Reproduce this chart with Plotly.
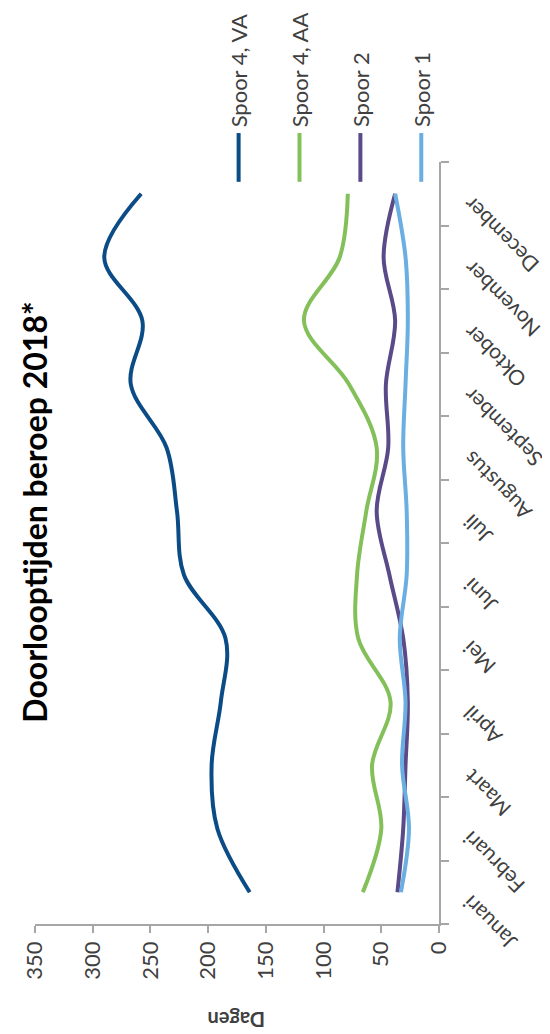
import plotly.graph_objects as go

months = ["Januari", "Februari", "Maart", "April", "Mei", "Juni", "Juli",
          "Augustus", "September", "Oktober", "November", "December"]
spoor4_va = [164, 192, 197, 189, 185, 221, 227, 236, 267, 257, 290, 258]
spoor4_aa = [66, 50, 58, 42, 70, 71, 63, 54, 78, 117, 86, 79]
spoor2 = [36, 31, 29, 27, 31, 43, 54, 44, 46, 38, 48, 38]
spoor1 = [33, 26, 32, 29, 34, 28, 28, 31, 29, 27, 29, 38]
value_ticks = [0, 50, 100, 150, 200, 250, 300, 350]

series = [
    ("Spoor 4, VA", spoor4_va, "#0B4C86"),
    ("Spoor 4, AA", spoor4_aa, "#84C05A"),
    ("Spoor 2", spoor2, "#5B4A88"),
    ("Spoor 1", spoor1, "#6AAEE2"),
]

FONT = "Lato"
TXT = "#404040"
AXC = "#A6A6A6"

fig = go.Figure()
for name, vals, col in series:
    fig.add_trace(go.Scatter(
        x=vals, y=months, mode="lines", name=name,
        line=dict(color=col, width=4, shape="spline", smoothing=1.0),
        showlegend=False))

fig.update_layout(
    width=542, height=1026,
    margin=dict(l=18, r=111, t=154, b=110),
    paper_bgcolor="white", plot_bgcolor="white",
    font=dict(family=FONT, color=TXT, size=22),
    xaxis=dict(range=[350, 0], tickvals=value_ticks, ticks="outside", ticklen=7,
               tickcolor=AXC, tickwidth=1.5, showline=True, linecolor=AXC, linewidth=1.5,
               showgrid=False, zeroline=False, tickangle=-90,
               tickfont=dict(family=FONT, size=22, color=TXT)),
    yaxis=dict(type="category", categoryorder="array", categoryarray=months,
               range=[-0.5, 11.5], side="right", tickson="boundaries",
               ticks="outside", ticklen=8, tickcolor=AXC, tickwidth=1.5,
               showline=True, linecolor=AXC, linewidth=1.5,
               showgrid=False, zeroline=False, showticklabels=False),
)

# month labels (rotated)
for m in months:
    fig.add_annotation(x=1, xref="paper", y=m, yref="y", text=m, textangle=-135,
                       xanchor="left", yanchor="top", xshift=16, yshift=4,
                       showarrow=False, font=dict(family=FONT, size=21, color=TXT))

# title
fig.add_annotation(x=-0.002, y=0.54, xref="paper", yref="paper",
                   text="<b>Doorlooptijden beroep 2018*</b>", textangle=-90,
                   xanchor="center", yanchor="middle", showarrow=False,
                   font=dict(family=FONT, size=32, color="#000000"))

# value axis title
fig.add_annotation(x=0.5, y=-0.126, xref="paper", yref="paper",
                   text="<b>Dagen</b>", textangle=180,
                   xanchor="center", yanchor="middle", showarrow=False,
                   font=dict(family=FONT, size=20, color=TXT))

# legend drawn vertically
leg_x0, leg_dx = 0.504, 0.1507
for i, (name, vals, col) in enumerate(series):
    lx = leg_x0 + i * leg_dx
    fig.add_shape(type="line", xref="paper", yref="paper", x0=lx, x1=lx,
                  y0=0.974, y1=1.038, line=dict(color=col, width=4))
    fig.add_annotation(x=lx, y=1.043, xref="paper", yref="paper", text=name,
                       textangle=-90, xanchor="center", yanchor="bottom",
                       showarrow=False, font=dict(family=FONT, size=22, color=TXT))

fig.write_html("out.html")
